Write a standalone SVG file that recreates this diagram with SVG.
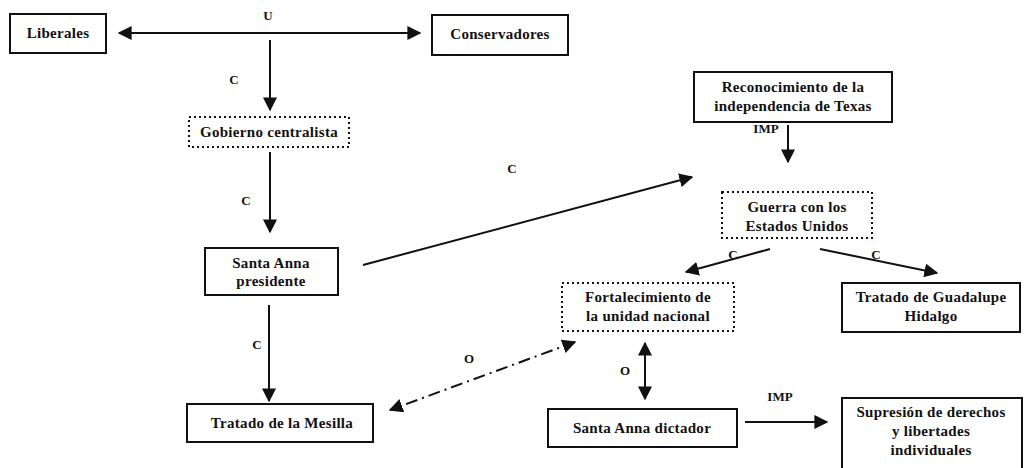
<svg xmlns="http://www.w3.org/2000/svg" width="1025" height="468" viewBox="0 0 1025 468">
  <style>
    .box { fill: #fff; stroke: #111; stroke-width: 2; }
    .dot { fill: #fff; stroke: #111; stroke-width: 2; stroke-dasharray: 2 3; }
    .t { font-family: "Liberation Serif", "Times New Roman", serif; font-size: 15px; font-weight: bold; letter-spacing: 0.3px; fill: #111; text-anchor: middle; }
    .lbl { font-family: "Liberation Serif", "Times New Roman", serif; font-size: 13px; font-weight: bold; fill: #111; text-anchor: middle; }
    .ln { fill: none; stroke: #111; stroke-width: 2; }
    .dd { fill: none; stroke: #111; stroke-width: 2; stroke-dasharray: 12 5 2 5; }
  </style>
  <defs>
    <marker id="ahb" viewBox="0 0 10 10" refX="9" refY="5" markerWidth="7" markerHeight="7" orient="auto-start-reverse">
      <path d="M0,0 L10,5 L0,10 z" fill="#111"/>
    </marker>
  </defs>
  <rect width="1025" height="468" fill="#fff"/>

  <!-- connectors -->
  <g id="connectors">
    <line class="ln" x1="119" y1="33" x2="420" y2="33" marker-start="url(#ahb)" marker-end="url(#ahb)"/>
    <text class="lbl" x="268" y="20">U</text>
    <line class="ln" x1="270" y1="40" x2="270" y2="110" marker-end="url(#ahb)"/>
    <text class="lbl" x="234" y="84">C</text>
    <line class="ln" x1="270" y1="152" x2="270" y2="232" marker-end="url(#ahb)"/>
    <text class="lbl" x="246" y="205">C</text>
    <line class="ln" x1="363" y1="265" x2="692" y2="177" marker-end="url(#ahb)"/>
    <text class="lbl" x="512" y="173">C</text>
    <line class="ln" x1="269" y1="305" x2="269" y2="401" marker-end="url(#ahb)"/>
    <text class="lbl" x="257" y="349">C</text>
    <line class="ln" x1="788" y1="125" x2="788" y2="162" marker-end="url(#ahb)"/>
    <text class="lbl" x="766" y="133">IMP</text>
    <line class="ln" x1="770" y1="249" x2="686" y2="272" marker-end="url(#ahb)"/>
    <text class="lbl" x="733" y="259">C</text>
    <line class="ln" x1="820" y1="249" x2="937" y2="273" marker-end="url(#ahb)"/>
    <text class="lbl" x="876" y="259">C</text>
    <line class="dd" x1="575" y1="342" x2="390" y2="410" marker-start="url(#ahb)" marker-end="url(#ahb)"/>
    <text class="lbl" x="469" y="363">O</text>
    <line class="ln" x1="645" y1="343" x2="645" y2="399" marker-start="url(#ahb)" marker-end="url(#ahb)"/>
    <text class="lbl" x="625" y="375">O</text>
    <line class="ln" x1="745" y1="422" x2="827" y2="422" marker-end="url(#ahb)"/>
    <text class="lbl" x="780" y="401">IMP</text>
  </g>

  <g id="liberales">
    <rect class="box" x="10" y="14" width="96" height="39"/>
    <text class="t" x="58" y="38">Liberales</text>
  </g>
  <g id="conservadores">
    <rect class="box" x="432" y="15" width="136" height="40"/>
    <text class="t" x="500" y="39">Conservadores</text>
  </g>
  <g id="gobierno">
    <rect class="dot" x="189" y="117" width="160" height="30"/>
    <text class="t" x="269" y="137">Gobierno centralista</text>
  </g>
  <g id="santa-anna-presidente">
    <rect class="box" x="205" y="248" width="133" height="47"/>
    <text class="t" x="271" y="268">Santa Anna</text>
    <text class="t" x="271" y="286">presidente</text>
  </g>
  <g id="mesilla">
    <rect class="box" x="187" y="404" width="186" height="38"/>
    <text class="t" x="282" y="428">Tratado de la Mesilla</text>
  </g>
  <g id="reconocimiento">
    <rect class="box" x="694" y="72" width="198" height="50"/>
    <text class="t" x="793" y="92">Reconocimiento de la</text>
    <text class="t" x="793" y="111">independencia de Texas</text>
  </g>
  <g id="guerra">
    <rect class="dot" x="722" y="192" width="150" height="46"/>
    <text class="t" x="797" y="212">Guerra con los</text>
    <text class="t" x="797" y="231">Estados Unidos</text>
  </g>
  <g id="fortalecimiento">
    <rect class="dot" x="562" y="283" width="172" height="48"/>
    <text class="t" x="648" y="302">Fortalecimiento de</text>
    <text class="t" x="648" y="321">la unidad nacional</text>
  </g>
  <g id="guadalupe">
    <rect class="box" x="842" y="283" width="178" height="49"/>
    <text class="t" x="931" y="302">Tratado de Guadalupe</text>
    <text class="t" x="931" y="321">Hidalgo</text>
  </g>
  <g id="santa-anna-dictador">
    <rect class="box" x="548" y="409" width="189" height="38"/>
    <text class="t" x="642" y="433">Santa Anna dictador</text>
  </g>
  <g id="supresion">
    <rect class="box" x="842" y="398" width="180" height="72"/>
    <text class="t" x="931" y="417">Supresión de derechos</text>
    <text class="t" x="931" y="436">y libertades</text>
    <text class="t" x="931" y="455">individuales</text>
  </g>
</svg>
